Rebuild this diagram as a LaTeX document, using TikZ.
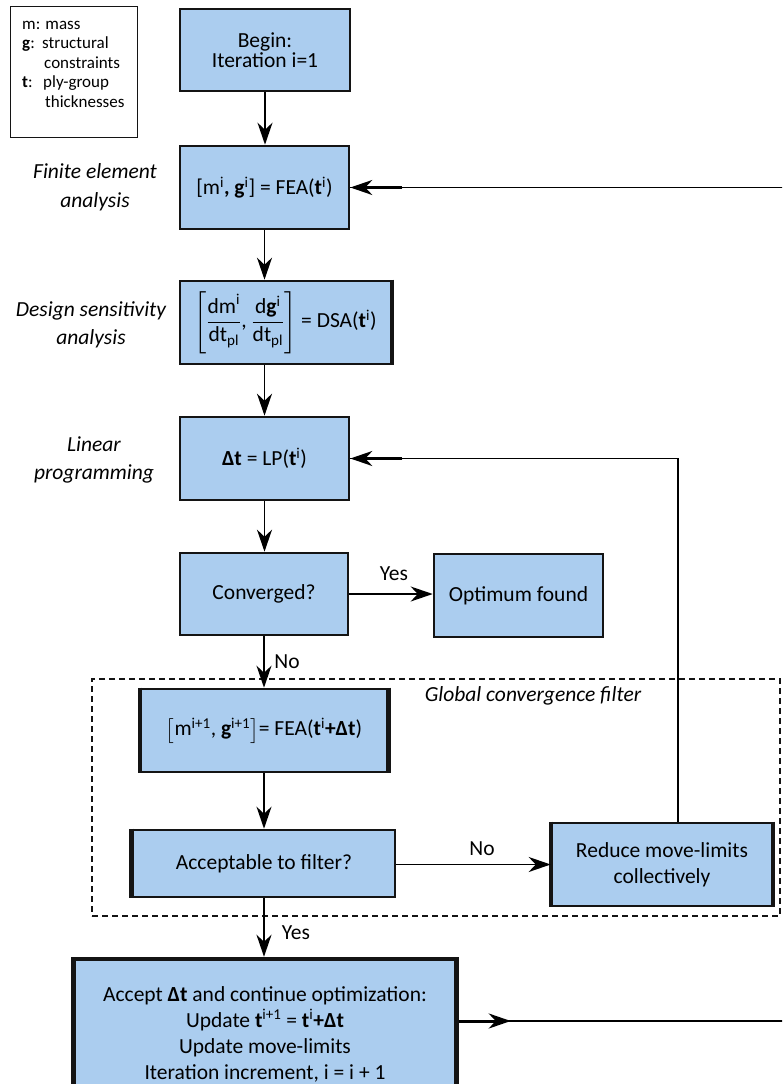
\documentclass[tikz,border=0pt]{standalone}
\usepackage{amsmath}
\usepackage{fontspec}
\setmainfont{Carlito}
\usetikzlibrary{arrows.meta}
\definecolor{boxblue}{RGB}{171,205,239}
\definecolor{edge}{RGB}{20,20,20}
\newcommand\bxfont{\fontsize{21.5}{26}\selectfont}
\newcommand\lgfont{\fontsize{17}{19.5}\selectfont}
\tikzset{
  box/.style={draw=edge, fill=boxblue, line width=2.6pt, align=center, font=\bxfont, inner sep=0pt},
  conn/.style={line width=1.8pt, -{Stealth[length=22pt,width=15pt,inset=7pt]}},
  thinline/.style={line width=1.3pt},
  side/.style={font=\fontsize{21.5}{28.5}\selectfont\itshape, align=center, inner sep=0pt},
  lbl/.style={font=\bxfont, inner sep=0pt},
  leg/.style={font=\lgfont, inner sep=0pt, anchor=base west},
}
\begin{document}
\begin{tikzpicture}[x=1pt,y=-1pt]
\useasboundingbox (0,0) rectangle (782,1084);
\clip (0,0) rectangle (782,1084);
% legend
\node[draw=edge, line width=1.2pt, minimum width=127pt, minimum height=131pt, inner sep=0pt] (legend) at (74,72) {};
\node[leg] (l1) at (22,29) {m: mass};
\node[leg] (l2a) at (22,48.5) {\textbf{g}:};
\node[leg] (l2b) at (42,48.5) {structural};
\node[leg] (l3) at (44,68) {constraints};
\node[leg] (l4a) at (22,87.5) {\textbf{t}:};
\node[leg] (l4b) at (43,87.5) {ply-group};
\node[leg] (l5) at (45,107) {thicknesses};
% boxes
\node[box, minimum width=170pt, minimum height=82pt, font=\fontsize{21.5}{20}\selectfont] (begin) at (265,50) {Begin:\\Iteration i=1};
\node[box, minimum width=169pt, minimum height=83pt] (fea) at (264.5,187.5) {[m\textsuperscript{i}\textbf{, g}\textsuperscript{i}] = FEA(\textbf{t}\textsuperscript{i})};
\node[box, minimum width=211pt, minimum height=83pt] (dsa) at (285.5,322.5) {$\left[\dfrac{\text{dm}^{\text{i}}}{\text{dt}_{\text{pl}}}\text{, }\dfrac{\text{d}\textbf{g}^{\text{i}}}{\text{dt}_{\text{pl}}}\right]$ = DSA(\textbf{t}\textsuperscript{i})};
\node[box, minimum width=169pt, minimum height=83pt] (lp) at (264.5,458.5) {\textbf{Δt} = LP(\textbf{t}\textsuperscript{i})};
\node[box, minimum width=168pt, minimum height=82pt] (conv) at (264,594) {Converged?};
\node[box, minimum width=169pt, minimum height=83pt] (opt) at (518.5,595.5) {Optimum found};
\node[box, minimum width=246pt, minimum height=83pt] (fea2) at (264,730.5) {$\bigl[$m\textsuperscript{i+1}, \textbf{g}\textsuperscript{i+1}$\bigr]$= FEA(\textbf{t}\textsuperscript{i}\textbf{+Δt})};
\node[box, minimum width=262pt, minimum height=67pt] (acc) at (264,863.5) {Acceptable to filter?};
\node[box, minimum width=220pt, minimum height=83pt] (red) at (662,864.5) {Reduce move-limits\\collectively};
\node[box, line width=4.5pt, minimum width=383pt, minimum height=150pt] (bot) at (265,1034) {Accept \textbf{Δt} and continue optimization:\\Update \textbf{t}\textsuperscript{i+1} = \textbf{t}\textsuperscript{i}\textbf{+Δt}\\Update move-limits\\Iteration increment, i = i + 1};
% heavier sides
\draw[edge, line width=4.5pt] (acc.north west) -- (acc.south west);
\draw[edge, line width=4pt] (fea2.north west) -- (fea2.south west);
\draw[edge, line width=4.5pt] (fea2.north east) -- (fea2.south east);
\draw[edge, line width=4pt] (red.north west) -- (red.south west);
\draw[edge, line width=4pt] (red.north east) -- (red.south east);
\draw[edge, line width=4pt] (dsa.north east) -- (dsa.south east);
% filter region
\node[draw=edge, dashed, dash pattern=on 6pt off 4pt, line width=1.3pt, minimum width=688pt, minimum height=237pt, inner sep=0pt] (filt) at (436,797.5) {};
\node[font=\bxfont\itshape, inner sep=0pt] (filtlbl) at (533,696) {Global convergence filter};
% side labels
\node[side] (sfea) at (95,187.5) {Finite element\\analysis};
\node[side] (sdsa) at (91,325) {Design sensitivity\\analysis};
\node[side] (slp) at (94,460) {Linear\\programming};
% connectors
\draw[conn] (begin.south) -- (begin.south |- fea.north);
\draw[conn] (fea.south) -- (fea.south |- dsa.north);
\draw[conn] (lp.north |- dsa.south) -- (lp.north);
\draw[conn] (lp.south) -- (lp.south |- conv.north);
\draw[conn] (conv.east) -- (conv.east -| opt.west);
\node[lbl] (yes1) at (394,574) {Yes};
\draw[conn] (conv.south) -- (conv.south |- fea2.north);
\node[lbl] (no1) at (287,662) {No};
\draw[conn] (fea2.south) -- (fea2.south |- acc.north);
\draw[conn] (acc.east |- red.west) -- (red.west);
\node[lbl] (no2) at (482,849) {No};
\draw[conn] (acc.south) -- (acc.south |- bot.north);
\node[lbl] (yes2) at (296,933) {Yes};
% reduce -> LP
\coordinate (rv) at (678,822);
\draw[thinline] (rv) |- (lp.east);
\draw[conn, line width=2.4pt] ([xshift=52pt]lp.east) -- (lp.east);
% bottom -> FEA loop
\coordinate (rx) at (800,0);
\draw[thinline] (bot.east |- 0,1021) -- (rx |- 0,1021) |- (fea.east);
\draw[conn, line width=2.4pt] ([xshift=52pt]fea.east) -- (fea.east);
\draw[conn, line width=3pt] (bot.east |- 0,1021) -- ++(52,0);
\end{tikzpicture}
\end{document}
